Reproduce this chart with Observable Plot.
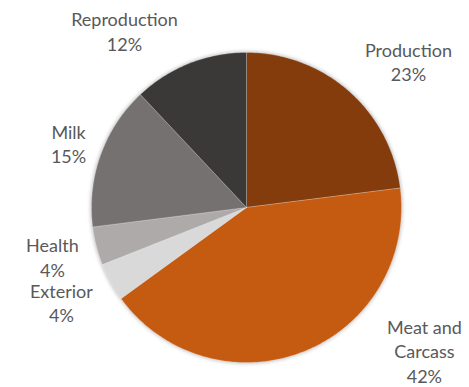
<!DOCTYPE html>
<html><head><meta charset="utf-8">
<script src="https://cdn.jsdelivr.net/npm/d3@7"></script>
<script src="https://cdn.jsdelivr.net/npm/@observablehq/plot@0.6"></script>
<style>
html,body{margin:0;padding:0;background:#fff;}
#chart svg g[aria-label="line"]{filter:drop-shadow(0 0 2px rgba(0,0,0,0.35));}
</style></head><body><div id="chart"></div>
<script>
// data
const categories = ["Production","Meat and Carcass","Exterior","Health","Milk","Reproduction"];
const labelTexts = ["Production","Meat and\nCarcass","Exterior","Health","Milk","Reproduction"];
const shares = [23,42,4,4,15,12];
const colors = ["#843C0C","#C55A11","#D9D9D9","#AEAAAA","#767171","#3B3838"];
// layout: label block centres in pie-radius units relative to the pie centre
const labelAnchor = [[1.045,0.945],[1.148,-0.922],[-1.194,-0.610],[-1.252,-0.316],[-1.148,0.416],[-0.787,1.139]];

const arcs = d3.pie().sort(null).value(d => d)(shares);
const pts = [];
arcs.forEach((a, i) => {
  const name = categories[i];
  pts.push({name, x: 0, y: 0});
  const n = Math.max(2, Math.ceil((a.endAngle - a.startAngle) / (Math.PI / 180)));
  for (let k = 0; k <= n; k++) {
    const t = a.startAngle + (a.endAngle - a.startAngle) * k / n;
    pts.push({name, x: Math.sin(t), y: Math.cos(t)});
  }
  pts.push({name, x: 0, y: 0});
});
const labels = categories.map((c, i) => ({
  name: c,
  text: labelTexts[i] + "\n" + shares[i] + "%",
  x: labelAnchor[i][0],
  y: labelAnchor[i][1]
}));

const chart = Plot.plot({
  width: 469, height: 387, margin: 0,
  style: {background: "#fff"},
  x: {domain: [-1.587, 1.439], axis: null},
  y: {domain: [-1.161, 1.335], axis: null},
  color: {domain: categories, range: colors},
  marks: [
    Plot.line(pts, {x: "x", y: "y", z: "name", fill: "name", stroke: "#ffffff", strokeWidth: 0.4, strokeOpacity: 0.6, curve: "linear"}),
    Plot.text(labels, {x: "x", y: "y", text: "text", fill: "#595959", fontSize: 18, fontFamily: "Lato", lineAnchor: "middle", lineHeight: 1.36, textAnchor: "middle"})
  ]
});
document.getElementById("chart").appendChild(chart);
</script></body></html>
